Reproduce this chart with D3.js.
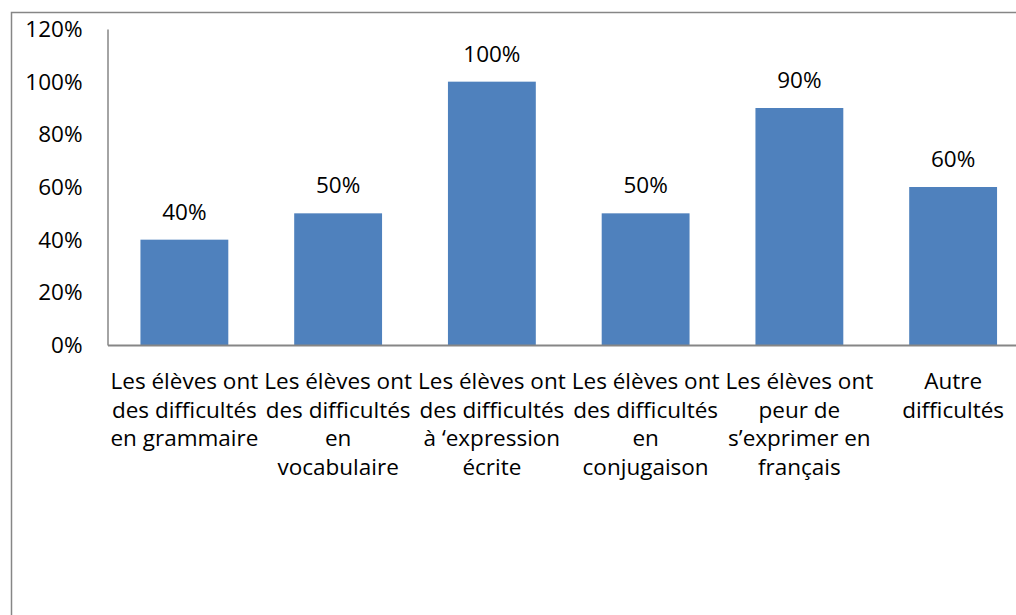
<!DOCTYPE html>
<html>
<head>
<meta charset="utf-8">
<script src="https://cdn.jsdelivr.net/npm/d3@7"></script>
<style>
    body { margin: 0; background: #fff; }
    svg { display: block; }
    text { font-family: 'Open Sans', 'Liberation Sans', sans-serif; fill: #000; }
</style>
</head>
<body>
<svg id="canvas" width="1016" height="615"></svg>
<script>
// categories (one array of lines per bar)
let categories = [
    ['Les élèves ont', 'des difficultés', 'en grammaire'],
    ['Les élèves ont', 'des difficultés', 'en', 'vocabulaire'],
    ['Les élèves ont', 'des difficultés', 'à ‘expression', 'écrite'],
    ['Les élèves ont', 'des difficultés', 'en', 'conjugaison'],
    ['Les élèves ont', 'peur de', 's’exprimer en', 'français'],
    ['Autre', 'difficultés']
]
let values = [0.4, 0.5, 1.0, 0.5, 0.9, 0.6]
let yTicks = [0, 0.2, 0.4, 0.6, 0.8, 1.0, 1.2]

let canvas = d3.select('#canvas')

let plotLeft = 107.5
let plotRight = 1030
let plotTop = 29
let plotBottom = 345
let gap = 0.75 / 1.75
let fontSize = '22.5px'

let xScale = d3.scaleBand()
    .domain(d3.range(categories.length))
    .range([plotLeft, plotRight])
    .paddingInner(gap)
    .paddingOuter(gap / 2)

let yScale = d3.scaleLinear()
    .domain([0, 1.2])
    .range([plotBottom, plotTop])

let pct = d3.format('.0%')

// outer chart border (runs off the right and bottom edge)
canvas.append('rect')
    .attr('x', 11.5)
    .attr('y', 12.5)
    .attr('width', 1100)
    .attr('height', 700)
    .attr('fill', 'none')
    .attr('stroke', '#868686')
    .attr('stroke-width', 1.5)

// y axis
let yAxis = d3.axisLeft(yScale)
    .tickValues(yTicks)
    .tickFormat(pct)
    .tickSize(0)
    .tickPadding(25)

let yG = canvas.append('g')
    .attr('transform', 'translate(' + plotLeft + ',0)')
    .call(yAxis)
yG.select('.domain').attr('stroke', '#868686').attr('stroke-width', 1.5)
yG.selectAll('text')
    .style('font-size', fontSize)
    .attr('dy', '0.33em')

// bars
canvas.selectAll('rect.bar')
    .data(values)
    .enter()
    .append('rect')
    .attr('class', 'bar')
    .attr('x', (d, i) => xScale(i))
    .attr('y', (d) => yScale(d))
    .attr('width', xScale.bandwidth())
    .attr('height', (d) => yScale(0) - yScale(d))
    .attr('fill', '#4F81BD')

// value labels
canvas.selectAll('text.value')
    .data(values)
    .enter()
    .append('text')
    .attr('class', 'value')
    .attr('x', (d, i) => xScale(i) + xScale.bandwidth() / 2)
    .attr('y', (d) => yScale(d) - 20)
    .attr('text-anchor', 'middle')
    .style('font-size', fontSize)
    .text((d) => pct(d))

// x axis
let xAxis = d3.axisBottom(xScale)
    .tickSize(0)
    .tickFormat('')

let xG = canvas.append('g')
    .attr('transform', 'translate(0,' + plotBottom + ')')
    .call(xAxis)
xG.select('.domain').attr('stroke', '#868686').attr('stroke-width', 2)

// category labels, one tspan per line
let catLabels = canvas.selectAll('text.cat')
    .data(categories)
    .enter()
    .append('text')
    .attr('class', 'cat')
    .attr('text-anchor', 'middle')
    .style('font-size', fontSize)

catLabels.selectAll('tspan')
    .data((lines, i) => lines.map((line) => ({ line: line, i: i })))
    .enter()
    .append('tspan')
    .attr('x', (d) => xScale(d.i) + xScale.bandwidth() / 2)
    .attr('y', (d, j) => 389 + j * 28.7)
    .text((d) => d.line)
</script>
</body>
</html>
